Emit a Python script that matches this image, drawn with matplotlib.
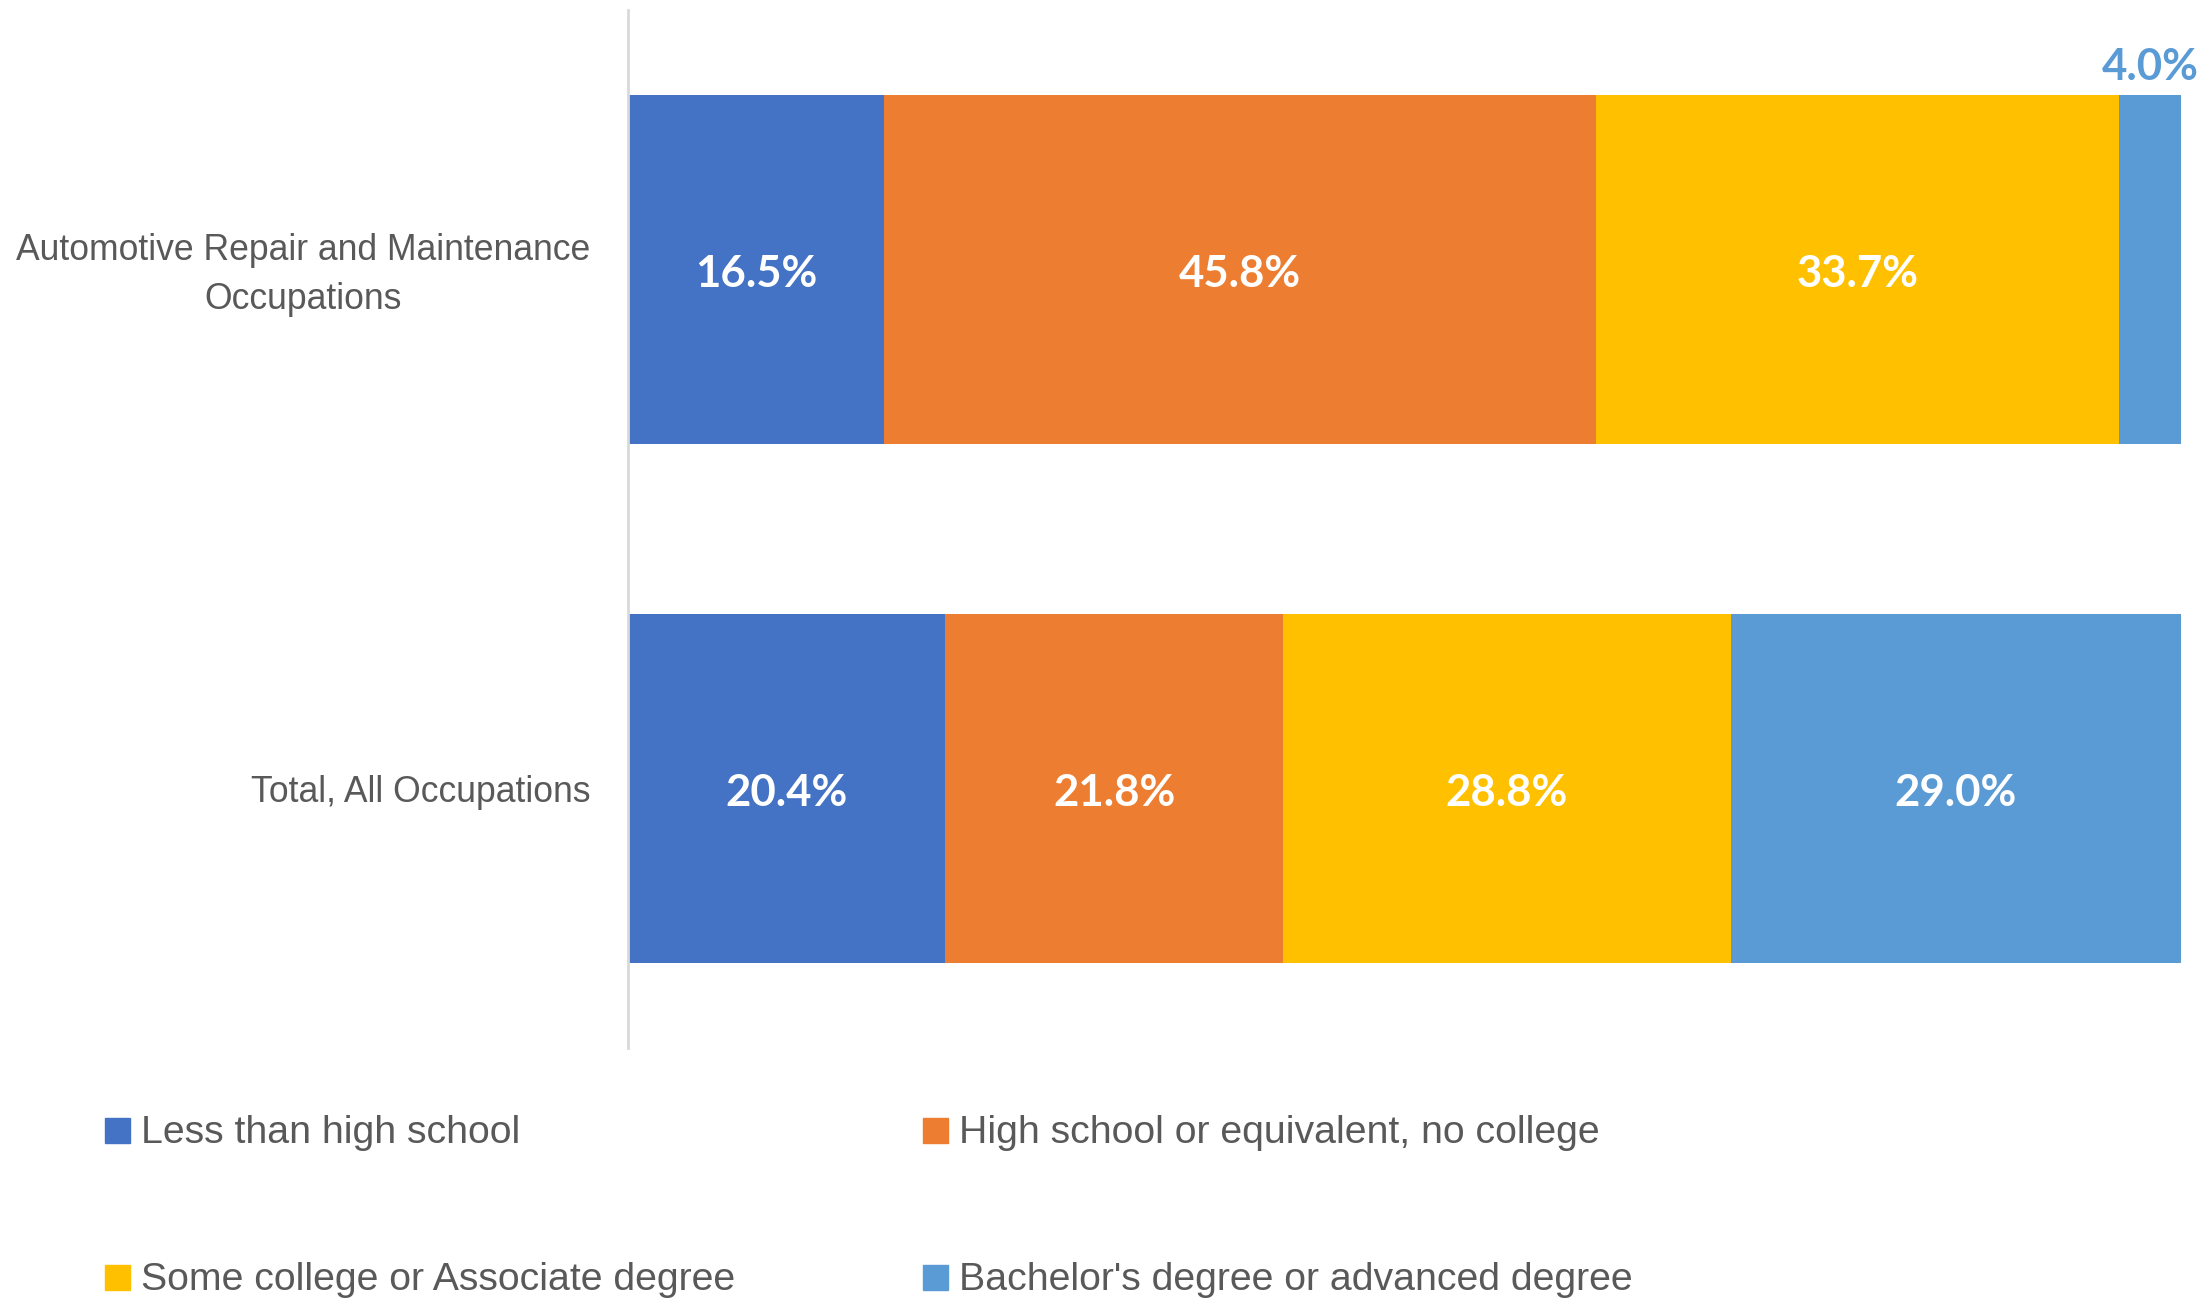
import matplotlib
matplotlib.use("Agg")
import matplotlib.pyplot as plt
from matplotlib.patches import Rectangle
from matplotlib import font_manager
from matplotlib.transforms import ScaledTranslation

categories = ["Total, All Occupations", "Automotive Repair and Maintenance\nOccupations"]
series_names = ["Less than high school", "High school or equivalent, no college",
                "Some college or Associate degree", "Bachelor's degree or advanced degree"]
values = {
    "Less than high school": [20.4, 16.5],
    "High school or equivalent, no college": [21.8, 45.8],
    "Some college or Associate degree": [28.8, 33.7],
    "Bachelor's degree or advanced degree": [29.0, 4.0],
}
colors = ["#4472C4", "#ED7D31", "#FFC000", "#5B9BD5"]

names = {f.name for f in font_manager.fontManager.ttflist}
label_font = "Liberation Sans Narrow" if "Liberation Sans Narrow" in names else "Liberation Sans"
value_font = "Lato" if "Lato" in names else "DejaVu Sans"
gray = "#595959"

fig = plt.figure(figsize=(22.02, 13.03), dpi=100)
ax = fig.add_axes([628/2202, 1-1048/1303, (2181-628)/2202, (1048-10)/1303])

y = [0, 1]
left = [0.0, 0.0]
for name, c in zip(series_names, colors):
    vals = values[name]
    ax.barh(y, vals, left=left, height=0.672, color=c, edgecolor="none")
    for yi, l, v in zip(y, left, vals):
        if v >= 10:
            ax.text(l + v/2, yi - 0.008, f"{v:.1f}%", ha="center", va="center", color="white",
                    fontsize=31.5, fontweight="bold", family=value_font)
        else:
            ax.text(l + v/2, yi + 0.336 + 0.015, f"{v:.1f}%", ha="center", va="bottom", color=c,
                    fontsize=31.5, fontweight="bold", family=value_font)
    left = [a + b for a, b in zip(left, vals)]

ax.set_xlim(0, 100)
ax.set_ylim(-0.5, 1.5)
ax.set_yticks(y)
ax.set_yticklabels(categories, fontsize=25.6, color=gray, family=label_font,
                   multialignment="center", linespacing=1.5)
ax.tick_params(axis="y", length=0, pad=27)
ax.set_xticks([])
for s in ["top", "right", "bottom"]:
    ax.spines[s].set_visible(False)
ax.spines["left"].set_color("#D9D9D9")
ax.spines["left"].set_linewidth(2)

lbl = ax.get_yticklabels()[1]
lbl.set_transform(lbl.get_transform() + ScaledTranslation(0, 5/100, fig.dpi_scale_trans))

# legend
pos = [(105, 1130), (923, 1130), (105, 1277), (923, 1277)]
sq = 25
for (px, py), name, c in zip(pos, series_names, colors):
    fig.patches.append(Rectangle((px/2202, 1-(py+sq/2)/1303), sq/2202, sq/1303,
                                 transform=fig.transFigure, color=c, figure=fig))
    fig.text((px+36)/2202, 1-(py+3)/1303, name, ha="left", va="center", fontsize=28.3,
             color=gray, family=label_font)

fig.savefig("out.png", dpi=100)
